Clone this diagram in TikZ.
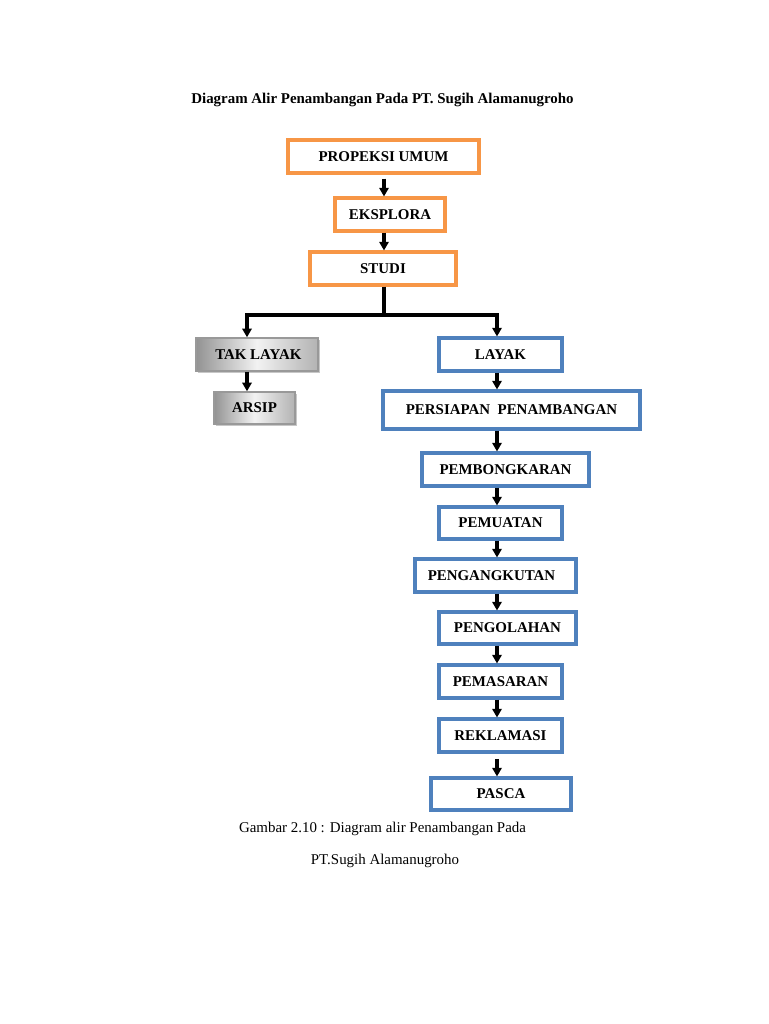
\documentclass[tikz,border=0pt]{standalone}
\usepackage{fontspec}
\setmainfont{Liberation Serif}
\usetikzlibrary{arrows.meta,shadows}
\definecolor{orng}{HTML}{F79646}
\definecolor{blu}{HTML}{4F81BD}
\begin{document}
\begin{tikzpicture}[x=0.75pt,y=-0.75pt,
  every node/.style={font=\fontsize{11.2}{13}\selectfont\bfseries, inner sep=0pt},
  obox/.style={draw=orng, line width=2.3pt, fill=white},
  bbox/.style={draw=blu, line width=2.3pt, fill=white},
  gbox/.style={draw=gray!80, line width=1.1pt, left color=gray!85, right color=gray!60, middle color=gray!10,
     drop shadow={shadow xshift=1.6pt, shadow yshift=-1.6pt, fill=gray!55, opacity=0.8}},
  arr/.style={line width=2.5pt, -{Triangle[length=6.5pt,width=7pt]}},
  ln/.style={line width=2.5pt}]
\useasboundingbox (0,0) rectangle (768,1024);
\fill[white] (0,0) rectangle (768,1024);

\node (title) at (382.5,100) {Diagram Alir Penambangan Pada PT. Sugih Alamanugroho};

\node[obox, minimum width=191*0.75pt, minimum height=33*0.75pt] (prop) at (383.5,156.5) {PROPEKSI UMUM};
\node[obox, minimum width=110*0.75pt, minimum height=33*0.75pt] (eks) at (390,214.5) {EKSPLORA};
\node[obox, minimum width=146*0.75pt, minimum height=33*0.75pt] (studi) at (383,268.5) {STUDI};

\node[gbox, minimum width=122*0.75pt, minimum height=33*0.75pt] (tak) at (257,354.5) {\hspace*{2pt}TAK LAYAK};
\node[gbox, minimum width=81*0.75pt, minimum height=32*0.75pt] (arsip) at (254.5,408) {ARSIP};

\node[bbox, minimum width=123*0.75pt, minimum height=33*0.75pt] (layak) at (500.5,354.5) {LAYAK};
\node[bbox, minimum width=257*0.75pt, minimum height=38*0.75pt] (pers) at (511.5,410) {PERSIAPAN\ \ PENAMBANGAN};
\node[bbox, minimum width=167*0.75pt, minimum height=33*0.75pt] (bong) at (505.5,469.5) {PEMBONGKARAN};
\node[bbox, minimum width=123*0.75pt, minimum height=32*0.75pt] (muat) at (500.5,523) {PEMUATAN};
\node[bbox, minimum width=161*0.75pt, minimum height=33*0.75pt] (angkut) at (495.5,575.5) {PENGANGKUTAN\hspace*{6pt}};
\node[bbox, minimum width=137*0.75pt, minimum height=32*0.75pt] (olah) at (507.5,628) {PENGOLAHAN};
\node[bbox, minimum width=123*0.75pt, minimum height=33*0.75pt] (pasar) at (500.5,681.5) {PEMASARAN};
\node[bbox, minimum width=123*0.75pt, minimum height=33*0.75pt] (rekla) at (500.5,735.5) {REKLAMASI};
\node[bbox, minimum width=140*0.75pt, minimum height=32*0.75pt] (pasca) at (501,794) {PASCA};

\node[font=\fontsize{11.2}{13}\selectfont] (cap1) at (382.5,829) {Gambar 2.10 : Diagram alir Penambangan Pada};
\node[font=\fontsize{11.2}{13}\selectfont] (cap2) at (385,861) {PT.Sugih Alamanugroho};

\coordinate (cx) at (384,0);
\coordinate (lx) at (247,0);
\coordinate (rx) at (497,0);
\coordinate (by) at (0,315);

\draw[arr] ([yshift=-3pt]prop.south -| cx) -- (eks.north -| cx);
\draw[arr] (eks.south -| cx) -- (studi.north -| cx);
\draw[ln] (studi.south -| cx) -- (cx |- by);
\draw[ln, line cap=rect] (lx |- by) -- (rx |- by);
\draw[arr] ([yshift=1.2pt]lx |- by) -- (tak.north -| lx);
\draw[arr] ([yshift=1.2pt]rx |- by) -- (layak.north -| rx);
\draw[arr] (tak.south -| lx) -- (arsip.north -| lx);
\draw[arr] (layak.south -| rx) -- (pers.north -| rx);
\draw[arr] (pers.south -| rx) -- (bong.north -| rx);
\draw[arr] (bong.south -| rx) -- (muat.north -| rx);
\draw[arr] (muat.south -| rx) -- (angkut.north -| rx);
\draw[arr] (angkut.south -| rx) -- (olah.north -| rx);
\draw[arr] (olah.south -| rx) -- (pasar.north -| rx);
\draw[arr] (pasar.south -| rx) -- (rekla.north -| rx);
\draw[arr] ([yshift=-4pt]rekla.south -| rx) -- (pasca.north -| rx);
\end{tikzpicture}
\end{document}
